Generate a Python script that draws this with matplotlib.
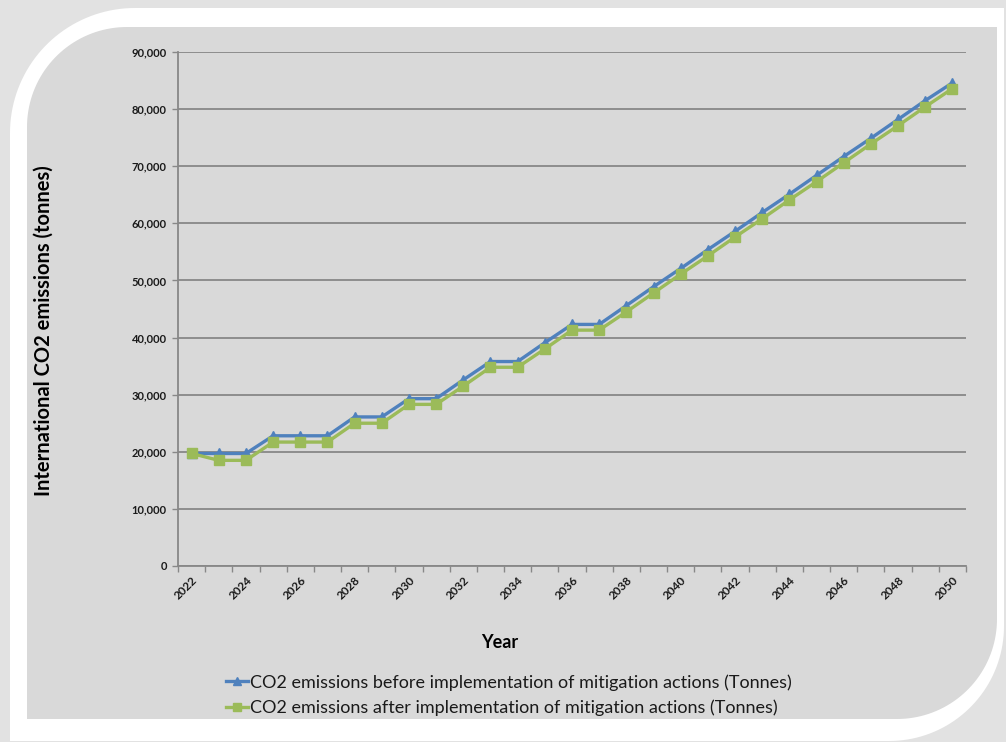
import numpy as np
import matplotlib
matplotlib.use("Agg")
import matplotlib.pyplot as plt
from matplotlib.patches import Polygon
from matplotlib.ticker import FuncFormatter, FixedLocator

# ---- data ----
years = list(range(2022, 2051))
before = [19700, 19700, 19700, 22800, 22800, 22800, 26100, 26100, 29300, 29300,
          32600, 35800, 35800, 39100, 42300, 42300, 45600, 48900, 52100, 55400,
          58600, 61900, 65100, 68400, 71700, 74900, 78200, 81500, 84600]
after = [19700, 18500, 18500, 21700, 21700, 21700, 25000, 25000, 28300, 28300,
         31500, 34800, 34800, 38000, 41300, 41300, 44500, 47800, 51100, 54300,
         57600, 60800, 64100, 67300, 70600, 73900, 77100, 80400, 83600]
series_labels = ["CO2 emissions before implementation of mitigation actions (Tonnes)",
                 "CO2 emissions after implementation of mitigation actions (Tonnes)"]
y_ticks = [0, 10000, 20000, 30000, 40000, 50000, 60000, 70000, 80000, 90000]

plt.rcParams['font.family'] = ['Lato', 'DejaVu Sans']

W, H = 1006, 742
fig = plt.figure(figsize=(W / 100, H / 100), dpi=100)
fig.patch.set_facecolor('#e2e2e2')

# ---- decorative background (frame) ----
bg = fig.add_axes([0, 0, 1, 1], zorder=-10)
bg.set_xlim(0, W)
bg.set_ylim(H, 0)
bg.axis('off')


def rounded(x0, y0, x1, y1, r_tl, r_br, n=40):
    pts = []
    cx, cy = x0 + r_tl, y0 + r_tl
    for t in np.linspace(np.pi, 1.5 * np.pi, n):
        pts.append((cx + r_tl * np.cos(t), cy + r_tl * np.sin(t)))
    pts.append((x1, y0))
    cx, cy = x1 - r_br, y1 - r_br
    for t in np.linspace(0, 0.5 * np.pi, n):
        pts.append((cx + r_br * np.cos(t), cy + r_br * np.sin(t)))
    pts.append((x0, y1))
    return pts


bg.add_patch(Polygon(rounded(10, 8, 1004, 741, 125, 115), closed=True,
                     facecolor='white', edgecolor='none'))
bg.add_patch(Polygon(rounded(27, 27, 997, 719, 100, 100), closed=True,
                     facecolor='#d9d9d9', edgecolor='none'))

# ---- main axes ----
left, right = 178 / W, 966 / W
bottom, top = 1 - 566 / H, 1 - 52 / H
ax = fig.add_axes([left, bottom, right - left, top - bottom])
ax.set_facecolor('none')

x = np.arange(len(years))
ax.plot(x, before, color='#4f81bd', lw=2.4, marker='^', ms=7,
        markeredgecolor='#4f81bd', label=series_labels[0], zorder=3)
ax.plot(x, after, color='#9bbb59', lw=2.4, marker='s', ms=7.5,
        markeredgecolor='#9bbb59', label=series_labels[1], zorder=3)

ax.set_xlim(-0.5, len(years) - 0.5)
ax.set_ylim(0, 90000)
ax.set_yticks(y_ticks)
ax.yaxis.set_major_formatter(FuncFormatter(lambda v, p: f"{int(v):,}"))
ax.grid(axis='y', color='#888888', lw=1.3)
ax.set_axisbelow(True)

# x: tick marks at category boundaries, labels every other category
ax.xaxis.set_major_locator(FixedLocator(np.arange(-0.5, len(years), 1.0)))
ax.xaxis.set_major_formatter(FuncFormatter(lambda v, p: ""))
ax.xaxis.set_minor_locator(FixedLocator(x[::2]))
ax.set_xticklabels([str(years[i]) for i in range(0, len(years), 2)], minor=True)
ax.tick_params(axis='x', which='major', length=4, color='#888888', width=1)
ax.tick_params(axis='x', which='minor', length=0, pad=6)
for lab in ax.get_xticklabels(minor=True):
    lab.set_rotation(45)
    lab.set_ha('right')
    lab.set_va('top')
    lab.set_rotation_mode('anchor')
    lab.set_fontsize(8.5)
    lab.set_fontweight('bold')
    lab.set_color('#1a1a1a')

ax.tick_params(axis='y', length=4, color='#888888', width=1, labelsize=8, pad=4)
for lab in ax.get_yticklabels():
    lab.set_fontweight('bold')
    lab.set_color('#1a1a1a')

for s in ['top', 'right']:
    ax.spines[s].set_visible(False)
for s in ['left', 'bottom']:
    ax.spines[s].set_color('#888888')
    ax.spines[s].set_linewidth(1.3)

fig.text(44 / W, 1 - 331 / H, "International CO2 emissions (tonnes)",
         rotation=90, ha='center', va='center', fontsize=14.5, fontweight='bold',
         color='#000000')
fig.text(500 / W, 1 - 643 / H, "Year", ha='center', va='center',
         fontsize=13, fontweight='bold', color='#000000')

leg = fig.legend(loc='upper left', bbox_to_anchor=(226 / W, 1 - 674 / H),
                 frameon=False, fontsize=13, handlelength=1.2,
                 handletextpad=0.12, borderaxespad=0, borderpad=0,
                 labelspacing=0.5, markerscale=0.75)
for t in leg.get_texts():
    t.set_color('#1a1a1a')

fig.savefig('out.png', dpi=100, facecolor=fig.get_facecolor())
